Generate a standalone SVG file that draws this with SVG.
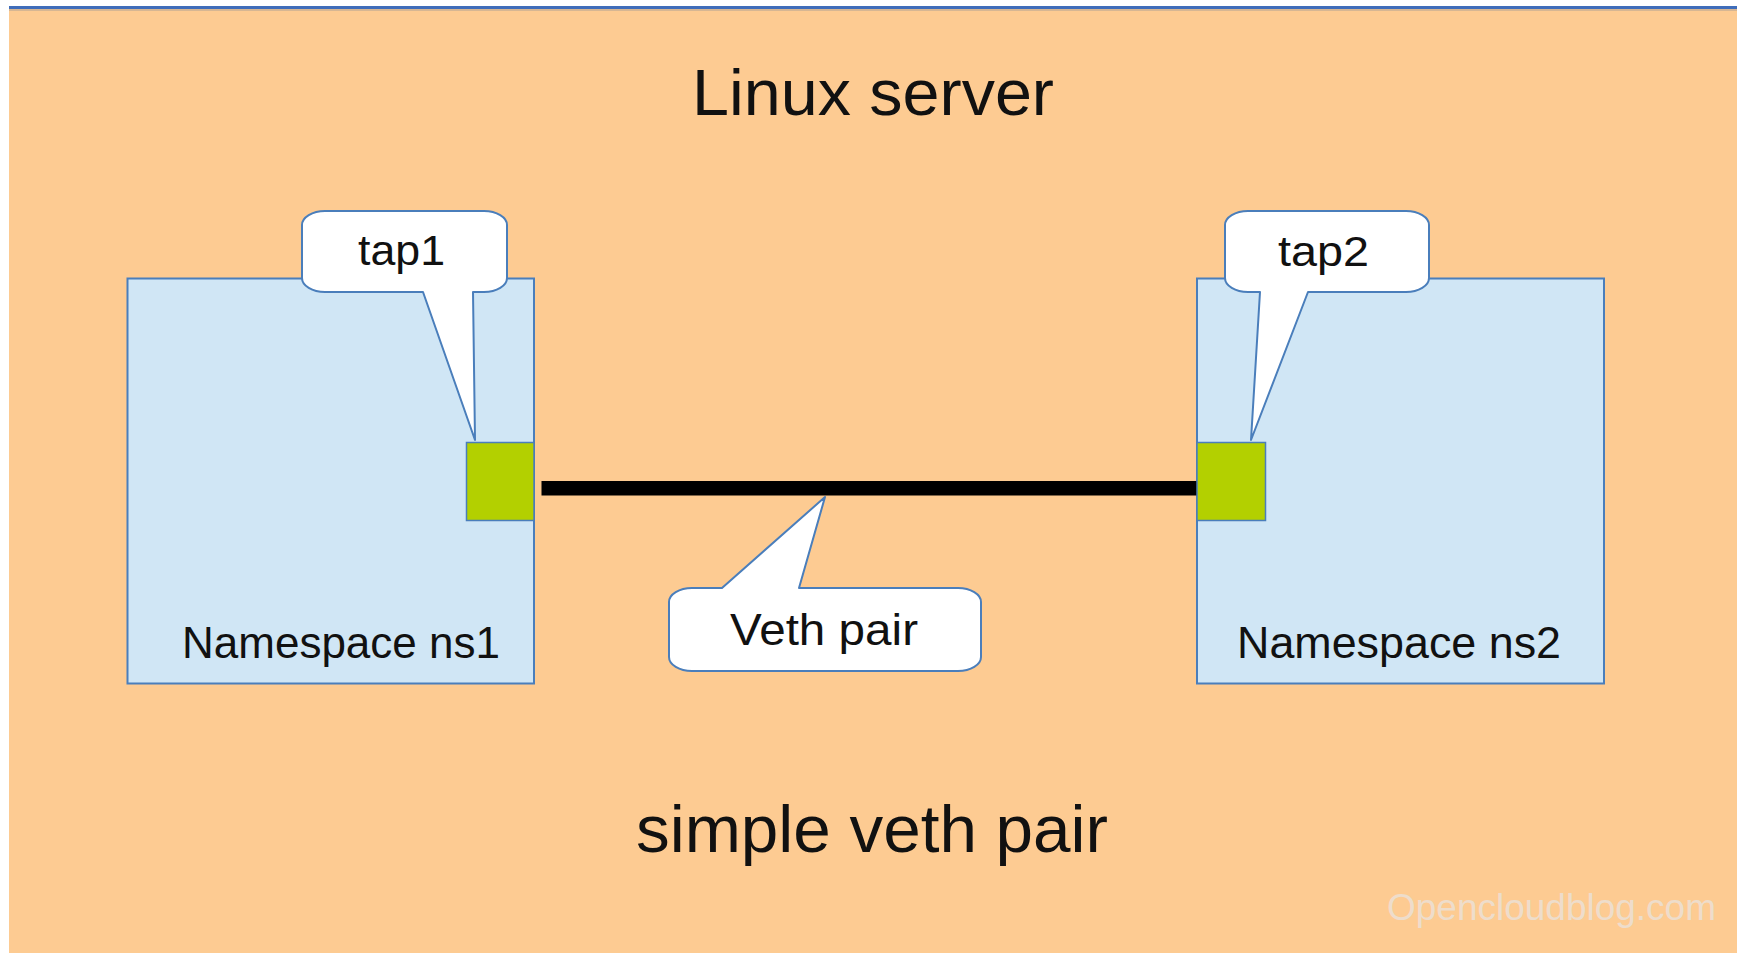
<svg xmlns="http://www.w3.org/2000/svg" width="1743" height="953" viewBox="0 0 1743 953">
  <defs>
    <style>
      .txt { font-family: "Liberation Sans", Arial, sans-serif; fill: #111111; }
      .ns { fill: #D0E6F5; stroke: #4A7EBB; stroke-width: 2; }
      .port { fill: #B3D000; stroke: #4A7EBB; stroke-width: 1.5; }
      .callout { fill: #FFFFFF; stroke: #4A7EBB; stroke-width: 2; stroke-linejoin: round; }
      .wire { fill: #000000; }
    </style>
  </defs>

  <!-- page background -->
  <rect x="0" y="0" width="1743" height="953" fill="#FFFFFF"/>
  <rect id="server" x="9" y="9" width="1728" height="944" fill="#FDCB92"/>
  <line x1="9" y1="10" x2="1737" y2="10" stroke="#C8AF93" stroke-width="1.5"/>
  <line x1="9" y1="7.5" x2="1737" y2="7.5" stroke="#3F6DBA" stroke-width="3"/>

  <text class="txt" x="873" y="115" font-size="65" text-anchor="middle" textLength="362" lengthAdjust="spacingAndGlyphs">Linux server</text>
  <text class="txt" x="872" y="852" font-size="66" text-anchor="middle" textLength="472" lengthAdjust="spacingAndGlyphs">simple veth pair</text>

  <!-- namespace ns1 -->
  <g id="ns1">
    <rect class="ns" x="127.5" y="278.5" width="406.5" height="405"/>
    <text class="txt" x="182" y="658" font-size="45" textLength="318" lengthAdjust="spacingAndGlyphs">Namespace ns1</text>
  </g>

  <!-- namespace ns2 -->
  <g id="ns2">
    <rect class="ns" x="1197" y="278.5" width="407" height="405"/>
    <text class="txt" x="1237" y="657.5" font-size="45" textLength="324" lengthAdjust="spacingAndGlyphs">Namespace ns2</text>
  </g>

  <!-- veth link between the two ports -->
  <g id="connectors">
    <rect class="wire" x="541.5" y="481" width="656" height="14.5"/>
  </g>

  <!-- veth endpoints -->
  <g id="tap1">
    <rect class="port" x="466.5" y="442.5" width="67.5" height="78"/>
  </g>
  <g id="tap2">
    <rect class="port" x="1197" y="442.5" width="68.5" height="78"/>
  </g>

  <!-- label callouts -->
  <g id="tap1-label">
    <path class="callout" d="M 325,211 H 484 A 23 14 0 0 1 507,225 V 278 A 23 14 0 0 1 484,292 H 473 L 475,440 L 423,292 H 325 A 23 14 0 0 1 302,278 V 225 A 23 14 0 0 1 325,211 Z"/>
    <text class="txt" x="358" y="265" font-size="43" textLength="87" lengthAdjust="spacingAndGlyphs">tap1</text>
  </g>

  <g id="tap2-label">
    <path class="callout" d="M 1248,211 H 1406 A 23 14 0 0 1 1429,225 V 278 A 23 14 0 0 1 1406,292 H 1308 L 1251,440 L 1260,292 H 1248 A 23 14 0 0 1 1225,278 V 225 A 23 14 0 0 1 1248,211 Z"/>
    <text class="txt" x="1278" y="265.5" font-size="43" textLength="91" lengthAdjust="spacingAndGlyphs">tap2</text>
  </g>

  <g id="veth-label">
    <path class="callout" d="M 692,588 H 722 L 825,497 L 799,588 H 958 A 23 14 0 0 1 981,602 V 657 A 23 14 0 0 1 958,671 H 692 A 23 14 0 0 1 669,657 V 602 A 23 14 0 0 1 692,588 Z"/>
    <text class="txt" x="730" y="645" font-size="44" textLength="188" lengthAdjust="spacingAndGlyphs">Veth pair</text>
  </g>

  <!-- site watermark -->
  <text x="1387" y="920" font-family="'Liberation Sans', Arial, sans-serif" font-size="37" fill="#EEDDCB" textLength="329" lengthAdjust="spacingAndGlyphs">Opencloudblog.com</text>
</svg>
